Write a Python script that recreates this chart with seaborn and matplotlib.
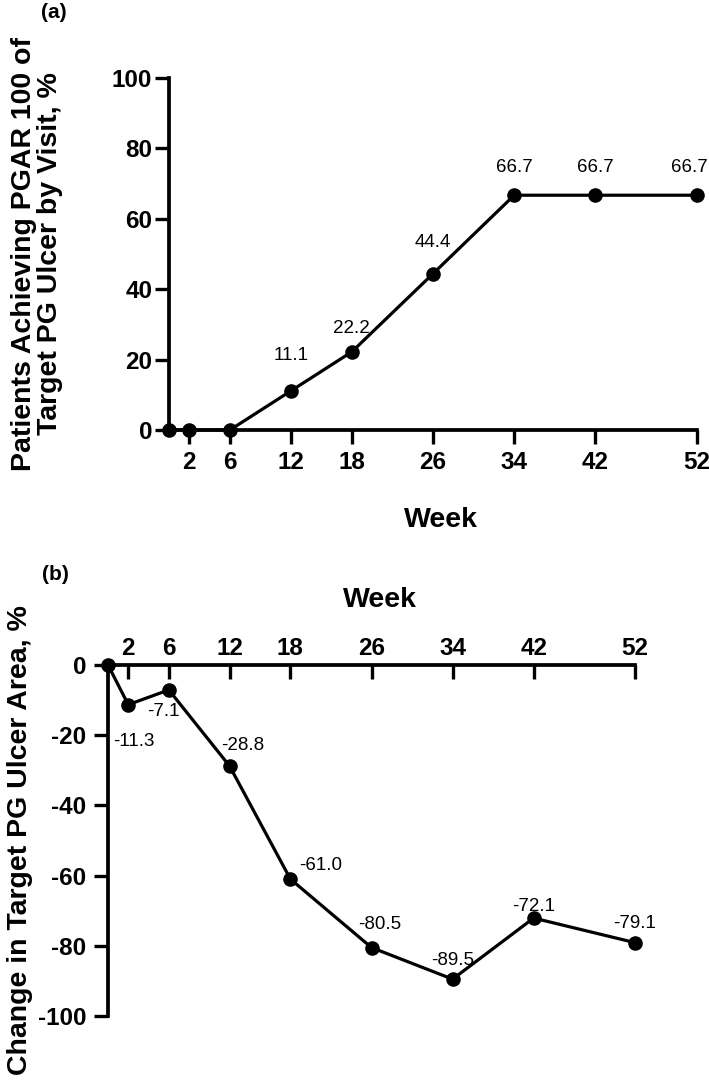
import matplotlib
matplotlib.use("Agg")
import matplotlib.pyplot as plt
import seaborn as sns

# data
weeks = [0, 2, 6, 12, 18, 26, 34, 42, 52]
pgar100_pct = [0, 0, 0, 11.1, 22.2, 44.4, 66.7, 66.7, 66.7]
area_change_pct = [0, -11.3, -7.1, -28.8, -61.0, -80.5, -89.5, -72.1, -79.1]

week_ticks = [2, 6, 12, 18, 26, 34, 42, 52]
pgar_ticks = [0, 20, 40, 60, 80, 100]
area_ticks = [0, -20, -40, -60, -80, -100]

ylabel_a = "Patients Achieving PGAR 100 of\nTarget PG Ulcer by Visit, %"
ylabel_b = "Change in Target PG Ulcer Area, %"

# label offsets in pixels (dx, dy), one per point
offsets_a = [(0, 0), (0, 0), (0, 0), (0, 35), (0, 23), (0, 31), (0, 28), (0, 28), (-8, 28)]
offsets_b = [(0, 0), (6, -37), (-5, -22), (13, 21), (30, 14), (8, 23), (0, 19), (0, 12), (0, 19)]

sns.set_theme(style="ticks")
plt.rcParams['font.family'] = ['Liberation Sans', 'DejaVu Sans']
plt.rcParams.update({
    "text.color": "black",
    "axes.labelcolor": "black",
    "axes.edgecolor": "black",
    "xtick.color": "black",
    "ytick.color": "black",
    "xtick.labelcolor": "black",
    "ytick.labelcolor": "black",
})

W, H = 709, 1081
fig = plt.figure(figsize=(W / 100, H / 100), dpi=100)
ax_a = fig.add_axes([169 / W, 1 - 430 / H, 528 / W, 352 / H])
ax_b = fig.add_axes([108 / W, 1 - 1016 / H, 527 / W, 351 / H])

line_kw = dict(color="black", linewidth=2.3, marker="o", markersize=10.5,
               markeredgecolor="black", markeredgewidth=0)
tick_font = dict(fontsize=17.5, fontweight="bold", color="black")
label_font = dict(fontsize=20.5, fontweight="bold", color="black")

# ---- panel (a)
sns.lineplot(x=weeks, y=pgar100_pct, ax=ax_a, **line_kw)
ax_a.set_xlim(0, 52)
ax_a.set_ylim(0, 100)
ax_a.set_xticks(week_ticks, [str(t) for t in week_ticks], **tick_font)
ax_a.set_yticks(pgar_ticks, [str(t) for t in pgar_ticks], **tick_font)
ax_a.tick_params(axis="x", direction="out", length=10, width=2.4, pad=5, color="black")
ax_a.tick_params(axis="y", direction="out", length=10, width=2.4, pad=2, color="black")
sns.despine(ax=ax_a)
for s in ["left", "bottom"]:
    ax_a.spines[s].set_linewidth(2.7)
    ax_a.spines[s].set_color("black")
ax_a.set_xlabel("Week", **label_font)
ax_a.xaxis.set_label_coords(0.515, -0.219)
ax_a.set_ylabel(ylabel_a, linespacing=1.0, **label_font)
ax_a.yaxis.set_label_coords(-0.200, 0.5)
for x, y, off in zip(weeks, pgar100_pct, offsets_a):
    if y != 0:
        ax_a.annotate(f"{y:.1f}", (x, y), xytext=off, textcoords="offset pixels",
                      ha="center", va="center", fontsize=13.5, color="black")

# ---- panel (b)
sns.lineplot(x=weeks, y=area_change_pct, ax=ax_b, **line_kw)
ax_b.set_xlim(0, 52)
ax_b.set_ylim(-100, 0)
ax_b.xaxis.tick_top()
ax_b.xaxis.set_label_position("top")
ax_b.set_xticks(week_ticks, [str(t) for t in week_ticks], **tick_font)
ax_b.set_yticks(area_ticks, [str(t) for t in area_ticks], **tick_font)
ax_b.tick_params(axis="x", direction="in", length=10, width=2.4, pad=3.6, color="black")
ax_b.tick_params(axis="y", direction="out", length=10, width=2.4, pad=5.5, color="black")
ax_b.spines["bottom"].set_visible(False)
ax_b.spines["right"].set_visible(False)
for s in ["left", "top"]:
    ax_b.spines[s].set_linewidth(2.7)
    ax_b.spines[s].set_color("black")
ax_b.set_xlabel("Week", **label_font)
ax_b.xaxis.set_label_coords(0.516, 1.165)
ax_b.set_ylabel(ylabel_b, **label_font)
ax_b.yaxis.set_label_coords(-0.142, 0.5)
for x, y, off in zip(weeks, area_change_pct, offsets_b):
    if y != 0:
        ax_b.annotate(f"{y:.1f}", (x, y), xytext=off, textcoords="offset pixels",
                      ha="center", va="center", fontsize=13.5, color="black")

for ax in (ax_a, ax_b):
    ax.grid(False)
    for ln in ax.lines:
        ln.set_clip_on(False)
        ln.set_zorder(5)

fig.text(54 / W, 1 - 13 / H, "(a)", ha="center", va="center", fontsize=15, fontweight="bold")
fig.text(55 / W, 1 - 575 / H, "(b)", ha="center", va="center", fontsize=15, fontweight="bold")

fig.savefig("out.png", dpi=100)
